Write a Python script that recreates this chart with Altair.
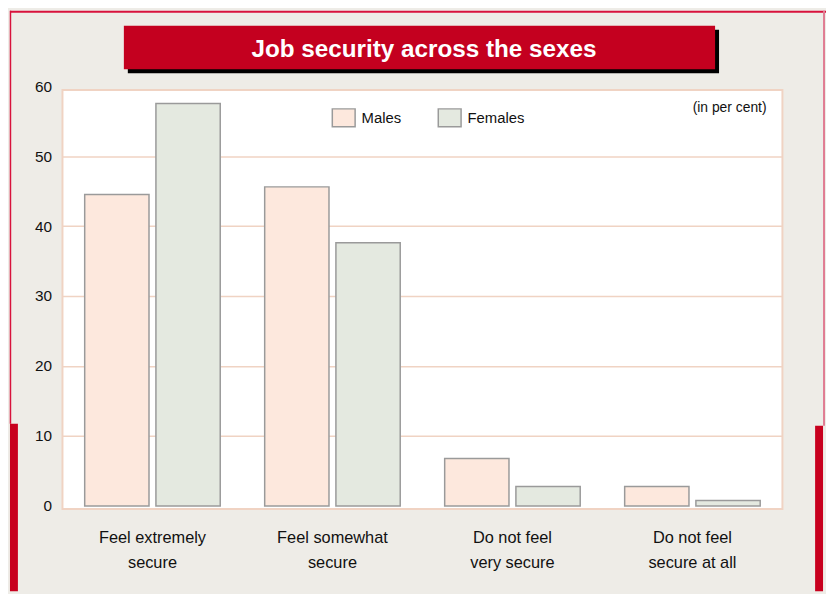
import altair as alt
import pandas as pd

# ---- data ----
categories = ["Feel extremely\nsecure", "Feel somewhat\nsecure", "Do not feel\nvery secure", "Do not feel\nsecure at all"]
series = ["Males", "Females"]
males = [44.5, 45.6, 6.8, 2.8]
females = [57.5, 37.6, 2.8, 0.8]
y_ticks = [0, 10, 20, 30, 40, 50, 60]
title_text = "Job security across the sexes"
unit_text = "(in per cent)"

rows = []
for c, m, f in zip(categories, males, females):
    rows.append({"category": c, "sex": "Males", "value": m})
    rows.append({"category": c, "sex": "Females", "value": f})
df = pd.DataFrame(rows)

FONT = "Liberation Sans, Arial, sans-serif"
RED = "#C4001F"
PEACH = "#F0D3C3"
W, H = 727, 423

one = pd.DataFrame({"k": [0]})

bars = alt.Chart(df).mark_bar(stroke="#9A9A9A", strokeWidth=1.5).encode(
    x=alt.X("category:N", sort=categories,
            scale=alt.Scale(paddingInner=0, paddingOuter=0),
            axis=alt.Axis(title=None, domain=False, ticks=False, labelAngle=0,
                          labelExpr="split(datum.label, '\\n')",
                          labelFont=FONT, labelFontSize=16.5, labelColor="#111",
                          labelPadding=21, labelLineHeight=25)),
    xOffset=alt.XOffset("sex:N", sort=series,
                        scale=alt.Scale(paddingInner=0.0972, paddingOuter=0.312)),
    y=alt.Y("value:Q",
            scale=alt.Scale(domain=[0, 60], range=[420, -4], nice=False, zero=True),
            axis=alt.Axis(title=None, domain=False, ticks=False, tickSize=0,
                          values=y_ticks, labelPadding=11,
                          labelFont=FONT, labelFontSize=15.5, labelColor="#111",
                          gridColor=alt.condition("datum.value === 0 || datum.value === 60",
                                                  alt.value("transparent"), alt.value(PEACH)),
                          gridWidth=1.5)),
    color=alt.Color("sex:N", sort=series,
                    scale=alt.Scale(domain=series, range=["#FDE8DD", "#E4E9E0"]),
                    legend=alt.Legend(title=None, orient="none", legendX=274, legendY=18,
                                      direction="horizontal",
                                      symbolType="M-1.28,-1H1.28V1H-1.28Z", symbolSize=324,
                                      symbolStrokeColor="#9A9A9A", symbolStrokeWidth=1.5,
                                      labelFont=FONT, labelFontSize=15, labelColor="#111",
                                      labelOffset=8, columnPadding=33, padding=0)),
)

def rect(x, x2, y, y2, color):
    return alt.Chart(one).mark_rect(color=color, clip=False).encode(
        x=alt.value(x), x2=alt.value(x2), y=alt.value(y), y2=alt.value(y2))

def rule(x, x2, y, y2, color, w):
    return alt.Chart(one).mark_rule(color=color, strokeWidth=w, clip=False).encode(
        x=alt.value(x), x2=alt.value(x2), y=alt.value(y), y2=alt.value(y2))

deco = [
    rule(-53, 771, -79, -79, "#D8123C", 2),
    rule(-52.5, -52.5, -80, 337, "#D8123C", 1.5),
    rect(-53, -45, 337, 506, "#C8001E"),
    rule(769, 769, -80, 339, "#E07C92", 2),
    rect(760, 768, 339, 506, "#C8001E"),
    rect(66, 663, -61, -17, "#000000"),
    rect(62, 659, -65, -21, RED),
]

title = alt.Chart(one).mark_text(font=FONT, fontSize=24.5, fontWeight="bold", color="white",
                                 align="center", baseline="alphabetic").encode(
    x=alt.value(365), y=alt.value(-33), text=alt.value(title_text))

unit = alt.Chart(one).mark_text(font=FONT, fontSize=14, color="#111",
                                align="right", baseline="middle").encode(
    x=alt.value(711), y=alt.value(18), text=alt.value(unit_text))

chart = alt.layer(*deco, title, bars, unit).properties(
    width=W, height=H,
    background="#EEECE7",
    autosize=alt.AutoSizeParams(type="none"),
    padding={"left": 55, "top": 80, "right": 44, "bottom": 83},
).configure_view(stroke=PEACH, strokeWidth=2, fill="white")

chart.save("out.html", embed_options={"renderer": "svg", "actions": False})
